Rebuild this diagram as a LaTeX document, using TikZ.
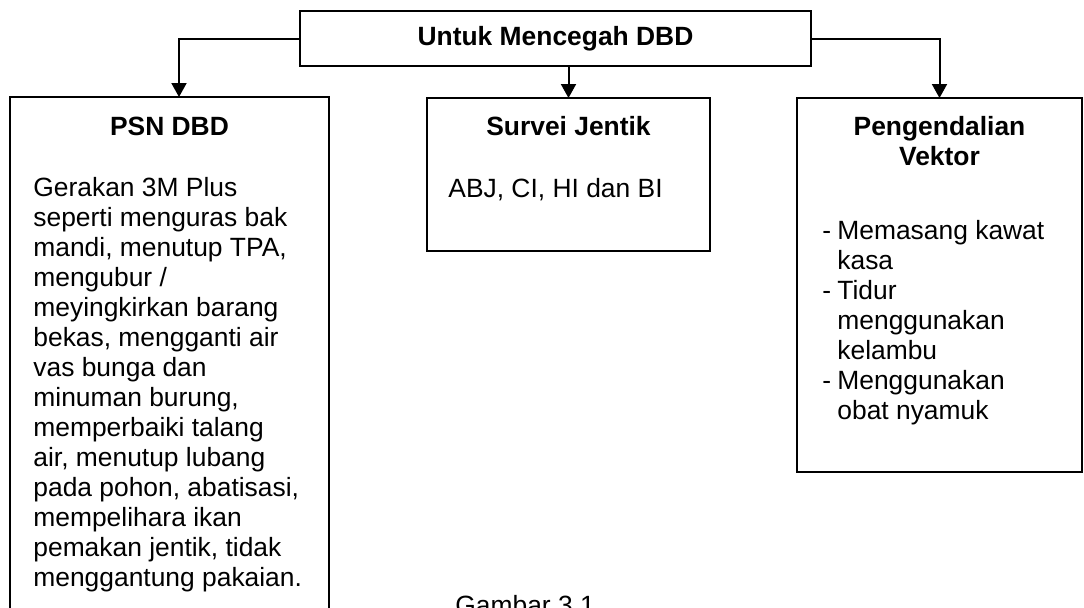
\documentclass[tikz,border=0pt]{standalone}
\usepackage{fontspec}
\setmainfont{Liberation Sans}
\usetikzlibrary{arrows.meta}

\begin{document}
\begin{tikzpicture}[x=0.5pt,y=-0.5pt,
        kotak/.style={draw,line width=1pt,inner sep=0pt,outer sep=0pt,anchor=north west},
        panah/.style={-{Triangle[width=7.5pt,length=7pt]},line width=1pt},
        teks/.style={inner sep=0pt,font=\fontsize{13.2}{15}\selectfont}]
        \useasboundingbox (0,0) rectangle (1084,607);

        \node[kotak,minimum width=255.5pt,minimum height=27.5pt] (cegah) at (300,11) {};
        \node[teks] (judulcegah) at (cegah.center) {\textbf{Untuk Mencegah DBD}};

        \node[kotak,minimum width=159.5pt,minimum height=280pt] (psn) at (10,97) {};
        \node[kotak,minimum width=141.5pt,minimum height=76.5pt] (survei) at (427,98) {};
        \node[kotak,minimum width=142.5pt,minimum height=187pt] (vektor) at (797,98) {};

        \coordinate (psnmasuk) at (179,97);
        \draw[panah] (cegah.west) -| (psnmasuk);
        \draw[panah] (cegah.south -| survei.north) -- (survei.north);
        \draw[panah] (cegah.east) -| (vektor.north);

        \node[teks,anchor=base] (judulpsn) at (169.5,135) {\textbf{PSN DBD}};
        \node[teks,anchor=north west,align=left] (isipsn) at (33,177) {Gerakan 3M Plus\\
            seperti menguras bak\\
            mandi, menutup TPA,\\
            mengubur /\\
            meyingkirkan barang\\
            bekas, mengganti air\\
            vas bunga dan\\
            minuman burung,\\
            memperbaiki talang\\
            air, menutup lubang\\
            pada pohon, abatisasi,\\
            mempelihara ikan\\
            pemakan jentik, tidak\\
            menggantung pakaian.};

        \node[teks,anchor=base] (judulsurvei) at (568.5,135) {\textbf{Survei Jentik}};
        \node[teks,anchor=base west] (isisurvei) at (448,197) {ABJ, CI, HI dan BI};

        \node[teks,anchor=north,align=center] (judulvektor) at (939.5,116) {\textbf{Pengendalian}\\\textbf{Vektor}};
        \node[teks,anchor=north west,align=left] (isivektor) at (822,220) {\makebox[7.5pt][l]{-}Memasang kawat\\
            \hspace*{7.5pt}kasa\\
            \makebox[7.5pt][l]{-}Tidur\\
            \hspace*{7.5pt}menggunakan\\
            \hspace*{7.5pt}kelambu\\
            \makebox[7.5pt][l]{-}Menggunakan\\
            \hspace*{7.5pt}obat nyamuk};

        \node[teks,anchor=base west] (gambar) at (455,614) {Gambar 3.1};
    \end{tikzpicture}
\end{document}
